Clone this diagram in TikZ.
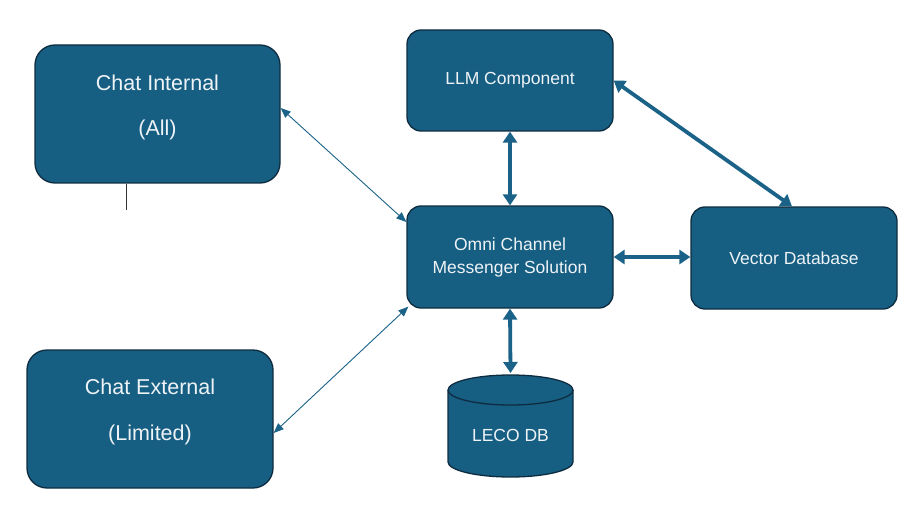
\documentclass[tikz,border=0pt]{standalone}
\usepackage{fontspec}
\setmainfont{Liberation Sans}
\usetikzlibrary{arrows.meta,calc}
\definecolor{boxfill}{HTML}{175E83}
\definecolor{boxline}{HTML}{0E2C40}
\definecolor{arrowc}{HTML}{1A6287}
\definecolor{txtc}{HTML}{EEF3F6}
\tikzset{
  box/.style={draw=boxline, line width=1.3pt, fill=boxfill, rounded corners=#1, inner sep=0pt},
  box/.default=14pt,
  bigtxt/.style={text=txtc, font=\fontsize{21.5}{26}\selectfont, align=center, inner sep=0pt},
  smalltxt/.style={text=txtc, font=\fontsize{17.5}{23}\selectfont, align=center, inner sep=0pt},
  thinarrow/.style={draw=arrowc, line width=0.9pt, {Triangle[length=10pt,width=8pt]}-{Triangle[length=10pt,width=8pt]}},
  thickarrow/.style={draw=arrowc, line width=3.8pt, {Triangle[length=11pt,width=14pt]}-{Triangle[length=11pt,width=14pt]}}
}
\begin{document}
\begin{tikzpicture}[x=1pt,y=1pt]
\useasboundingbox (0,0) rectangle (923,523);
% boxes
\node[box=20pt, minimum width=245pt, minimum height=138pt] (ci) at (157.5,409) {};
\node[bigtxt] (citA) at (157.5,440) {Chat Internal};
\node[bigtxt] (citB) at (157.5,393) {(All)};
\node[box=20pt, minimum width=246pt, minimum height=138pt] (ce) at (150,104) {};
\node[bigtxt] (cetA) at (150,136) {Chat External};
\node[bigtxt] (cetB) at (150,88) {(Limited)};
\node[box, minimum width=206pt, minimum height=101pt, smalltxt] (llm) at (510,442.5) {LLM Component};
\node[box, minimum width=206pt, minimum height=102pt, smalltxt] (om) at (510,266) {Omni Channel\\Messenger Solution};
\node[box, minimum width=206pt, minimum height=102pt, smalltxt] (vd) at (794,265) {Vector Database};
% cylinder
\coordinate (cyltop) at (510.5,148);
\fill[boxfill] (448,133) -- (448,61) arc (180:360:62.5 and 15) -- (573,133) arc (0:180:62.5 and 15) -- cycle;
\draw[boxline, line width=1.3pt] (448,133) -- (448,61) arc (180:360:62.5 and 15) -- (573,133);
\draw[boxline, line width=1.3pt] (510.5,133) ellipse (62.5 and 15);
\node[smalltxt] (leco) at (510.5,88) {LECO DB};
% connectors
\draw[thinarrow] ([yshift=6pt]ci.east) -- ([yshift=35pt]om.west);
\draw[thinarrow] ([yshift=-14pt]ce.east) -- ([shift={(2pt,2pt)}]om.south west);
\draw[thickarrow] (llm.south) -- (om.north);
\draw[thickarrow] (om.east) -- (om.east -| vd.west);
\draw[thickarrow] (om.south) -- ([yshift=2pt]cyltop);
\draw[thickarrow] (llm.east) -- ([xshift=-2pt]vd.north);
% small mark below Chat Internal
\draw[black!80, line width=0.8pt] ([xshift=-31pt]ci.south) -- ++(0,-26);
\end{tikzpicture}
\end{document}
